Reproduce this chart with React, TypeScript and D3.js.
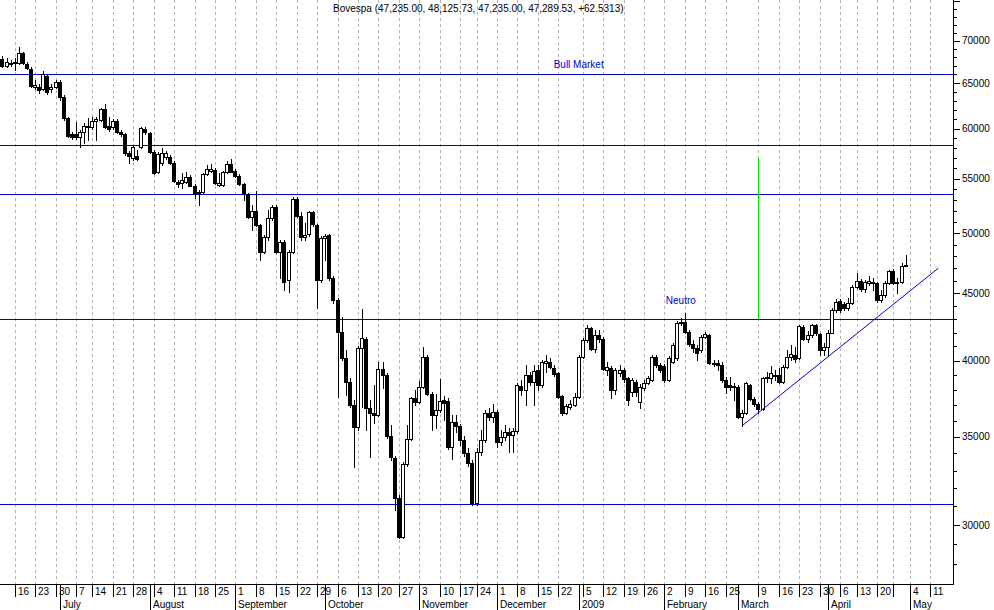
import { useEffect, useRef } from 'react'
import * as d3 from 'd3'

const W = 994
const H = 610
const FONT = '"Liberation Sans", Arial, sans-serif'

// sessions: every weekday from the first to the last date, minus exchange holidays
const FIRST_SESSION = '2008-06-10'
const LAST_SESSION = '2009-05-29'
const HOLIDAYS = [
  '2008-07-09', '2008-11-20', '2008-12-24', '2008-12-25', '2008-12-31',
  '2009-01-01', '2009-02-23', '2009-02-24', '2009-04-10', '2009-04-21', '2009-05-01',
]

// daily Bovespa candles, 2008-06-10 .. 2009-04-30
const OPEN = [
  68640, 67800, 66980, 67160, 67450, 67300, 68490, 67220, 66630, 64600, 64600, 64300, 65820, 64300, 64530,
  65170, 63410, 61120, 59440, 59440, 59120, 59640, 60170, 60170, 60870, 60940, 62090, 60300, 60170, 60870,
  59710, 59470, 57490, 56990, 57220, 58160, 59960, 59540, 57650, 55610, 56500, 57090, 57150, 56560, 54710,
  54550, 54650, 55130, 54330, 53610, 53700, 55450, 55770, 55840, 54390, 54390, 55610, 56430, 55740, 55290,
  54460, 53520, 51460, 51970, 50720, 48400, 49630, 51310, 52310, 48400, 49200, 46060, 48400, 53050, 51550,
  49630, 49920, 51850, 50720, 46060, 49550, 49830, 46200, 44480, 42080, 40160, 38550, 37010, 35630, 40870,
  41520, 36800, 36490, 36370, 39400, 39010, 35060, 33710, 31440, 29390, 33360, 34850, 37450, 37220, 38220,
  40280, 37730, 36370, 36690, 37320, 37270, 34370, 35950, 35680, 34810, 34050, 33420, 31200, 34110, 34810,
  36470, 36260, 36540, 34710, 34980, 35280, 35120, 35360, 38280, 37990, 39010, 38510, 39350, 38330, 39860,
  39930, 39460, 39120, 37600, 36470, 36860, 37010, 37510, 40280, 41470, 42330, 40820, 41830, 41520, 39350,
  39510, 37990, 39120, 39350, 38780, 37880, 38550, 37220, 38110, 38490, 38670, 40230, 39690, 39620, 38670,
  39930, 40160, 42700, 42770, 42080, 41160, 40870, 40750, 41710, 41830, 39860, 39830, 39690, 38670, 38330,
  38260, 38220, 36260, 36470, 38330, 37400, 37070, 36750, 38780, 38780, 39010, 39010, 38550, 39580, 40230,
  40400, 40160, 42400, 41520, 41830, 42570, 41910, 40750, 40990, 42000, 43700, 44420, 44170, 43830, 44220,
  45520, 46000, 45320, 45790, 45920, 45790, 44480, 44870, 45840, 46790, 45820, 45920, 47235,
]
const HIGH = [
  69360, 68160, 67920, 67690, 67920, 69280, 68640, 67450, 66860, 65360, 64900, 66400, 65940, 64900, 65360,
  65360, 63670, 61260, 59680, 60760, 59880, 60590, 61160, 61300, 61260, 62240, 62640, 61300, 61050, 61050,
  59880, 59570, 57720, 58330, 57830, 60200, 60200, 59680, 57830, 57620, 58000, 57720, 57320, 56720, 54870,
  55550, 55670, 55350, 54490, 53920, 55550, 56330, 56430, 56040, 55520, 55740, 56750, 56890, 55940, 55450,
  54580, 53640, 52520, 53820, 50800, 49830, 52060, 52520, 52520, 49400, 49400, 48540, 53290, 53290, 51880,
  50890, 51970, 51970, 50800, 49750, 49920, 49920, 46380, 44630, 43200, 40750, 38800, 37340, 41040, 43750,
  41690, 37340, 38330, 39930, 39930, 39140, 35740, 33850, 31620, 33500, 35740, 37550, 37990, 38620, 40990,
  40400, 37860, 37710, 38710, 37600, 37470, 36370, 36370, 35800, 35060, 34330, 33610, 34330, 35430, 36690,
  36820, 37070, 36690, 35430, 35740, 35550, 35550, 38460, 38670, 39690, 39210, 39690, 39690, 40040, 40400,
  40180, 39690, 39210, 37660, 37070, 37340, 37770, 40400, 41610, 42570, 42420, 42200, 42200, 41690, 39900,
  39630, 39490, 39690, 39490, 38870, 38800, 38670, 38400, 38670, 38940, 40400, 40400, 39830, 39760, 40330,
  41250, 42870, 43100, 43500, 42200, 41470, 41110, 41830, 42050, 41910, 40040, 40040, 39900, 38890, 38890,
  38460, 38330, 36690, 38530, 38400, 37530, 37210, 38870, 39210, 39630, 39350, 39490, 39690, 40750, 41110,
  40970, 42570, 42570, 42130, 42650, 42650, 41980, 41250, 42200, 43860, 44550, 44550, 44320, 44630, 45660,
  46630, 46140, 46060, 46380, 46220, 45900, 45260, 45980, 46870, 46960, 46220, 47450, 48125.73,
]
const LOW = [
  67690, 66860, 66860, 66980, 66510, 67220, 67220, 66630, 64560, 64340, 63890, 64225, 63750, 64000, 64450,
  63110, 60940, 59160, 58950, 58950, 58100, 58510, 58850, 59990, 58850, 60830, 60100, 59780, 59990, 59570,
  59260, 57320, 56500, 56820, 56820, 58030, 59470, 57520, 55450, 55540, 56330, 56920, 56430, 54680, 54230,
  54080, 54580, 54300, 53140, 52520, 53630, 55350, 55640, 54490, 54300, 54300, 55540, 55640, 55160, 54390,
  52980, 51310, 50270, 50630, 47700, 48290, 49400, 51160, 48290, 46200, 45260, 45100, 48290, 51430, 49400,
  49400, 49740, 50630, 43830, 45900, 47700, 46060, 44220, 37550, 40040, 37660, 36880, 33220, 35430, 36900,
  35430, 33810, 35860, 36310, 38130, 34930, 33610, 30800, 29350, 29350, 33260, 34810, 37010, 37140, 38130,
  37660, 35430, 35530, 36560, 36050, 34270, 33660, 35300, 34510, 33850, 33260, 31070, 31070, 33910, 34690,
  36050, 35930, 34390, 34510, 34810, 34090, 34090, 35240, 37660, 37010, 38330, 37010, 37990, 38200, 39230,
  39490, 38940, 37470, 36370, 36430, 36750, 36950, 37470, 40180, 41330, 40750, 40610, 41330, 39350, 39010,
  37450, 37730, 38940, 38530, 37010, 37600, 37600, 36800, 37990, 38400, 38600, 39560, 39210, 38530, 38600,
  39830, 40040, 42570, 41980, 41030, 40610, 40040, 40610, 41610, 39760, 39630, 39350, 38530, 37770, 37990,
  37340, 36180, 35690, 36430, 37340, 36950, 36490, 36690, 38530, 38440, 38670, 38490, 38460, 39490, 40040,
  39900, 40110, 41470, 41330, 41690, 41830, 40400, 40400, 40330, 41980, 43550, 43550, 43700, 43700, 44170,
  45420, 45180, 45100, 45660, 45260, 44320, 44320, 44710, 45740, 45740, 45030, 45820, 47235,
]
const CLOSE = [
  67920, 66980, 67420, 67330, 67300, 68490, 67300, 66750, 64680, 64790, 64225, 66010, 64030, 64600, 65170,
  63480, 61120, 59290, 59190, 59120, 59640, 60300, 60300, 60870, 61050, 62090, 60170, 59960, 60870, 59710,
  59470, 57490, 57250, 58160, 56950, 60060, 59680, 57650, 55570, 57420, 57550, 57550, 56560, 54800, 54490,
  54870, 55130, 54330, 53520, 53760, 55450, 55940, 55940, 54550, 54550, 55610, 56430, 55670, 55290, 54460,
  53610, 51460, 51970, 50720, 48400, 49630, 51310, 52370, 48400, 49250, 45920, 48370, 53050, 51550, 49630,
  49830, 51850, 50800, 46060, 49550, 49750, 46200, 44480, 42080, 40160, 38550, 37010, 35630, 40870, 41590,
  36800, 36470, 36370, 39400, 39010, 35060, 33810, 31440, 29390, 33360, 34850, 37450, 37220, 38220, 40280,
  37730, 36370, 36690, 37270, 37160, 34370, 35950, 35680, 34810, 34050, 33420, 31200, 34110, 34810, 36470,
  36260, 36580, 34710, 35010, 35280, 35120, 35360, 38330, 37990, 39010, 38510, 39300, 38330, 39930, 39980,
  39580, 39080, 37550, 36470, 36950, 37060, 37510, 40280, 41470, 42330, 40800, 41830, 41540, 39420, 39530,
  37990, 39350, 39350, 38710, 37340, 38670, 37880, 38220, 38490, 38780, 40280, 39690, 39350, 38670, 40160,
  41110, 42700, 42820, 42080, 41160, 40870, 40520, 41710, 41910, 39860, 39760, 39690, 38670, 38220, 38170,
  38220, 36260, 36470, 38440, 37400, 37070, 36750, 38780, 38890, 39120, 38940, 38550, 39580, 40230, 40470,
  40090, 42500, 41520, 41830, 42570, 41960, 40750, 40990, 42000, 43700, 44340, 43700, 43830, 44220, 45520,
  46000, 45320, 45920, 46000, 45790, 44480, 44870, 45840, 46790, 45840, 45920, 47240, 47289.53,
]

const WEEK_TICKS: [string, string][] = [
  ['2008-06-16', '16'], ['2008-06-23', '23'], ['2008-06-30', '30'], ['2008-07-07', '7'], ['2008-07-14', '14'],
  ['2008-07-21', '21'], ['2008-07-28', '28'], ['2008-08-04', '4'], ['2008-08-11', '11'], ['2008-08-18', '18'],
  ['2008-08-25', '25'], ['2008-09-01', '1'], ['2008-09-08', '8'], ['2008-09-15', '15'], ['2008-09-22', '22'],
  ['2008-09-29', '29'], ['2008-10-06', '6'], ['2008-10-13', '13'], ['2008-10-20', '20'], ['2008-10-27', '27'],
  ['2008-11-03', '3'], ['2008-11-10', '10'], ['2008-11-17', '17'], ['2008-11-24', '24'], ['2008-12-01', '1'],
  ['2008-12-08', '8'], ['2008-12-15', '15'], ['2008-12-22', '22'], ['2009-01-05', '5'], ['2009-01-12', '12'],
  ['2009-01-19', '19'], ['2009-01-26', '26'], ['2009-02-02', '2'], ['2009-02-09', '9'], ['2009-02-16', '16'],
  ['2009-02-25', '25'], ['2009-03-09', '9'], ['2009-03-16', '16'], ['2009-03-23', '23'], ['2009-03-30', '30'],
  ['2009-04-06', '6'], ['2009-04-13', '13'], ['2009-04-20', '20'], ['2009-04-27', ''], ['2009-05-04', '4'],
  ['2009-05-11', '11'],
]
const MONTH_TICKS: [string, string][] = [
  ['2008-07-01', 'July'], ['2008-08-01', 'August'], ['2008-09-01', 'September'], ['2008-10-01', 'October'],
  ['2008-11-03', 'November'], ['2008-12-01', 'December'], ['2009-01-02', '2009'], ['2009-02-02', 'February'],
  ['2009-03-02', 'March'], ['2009-04-01', 'April'], ['2009-05-04', 'May'],
]
const PRICE_LABELS = [30000, 35000, 40000, 45000, 50000, 55000, 60000, 65000, 70000]
const PRICE_MINOR = d3.range(27000, 75001, 1000)

const LEVELS = [66050, 58350, 53550, 43000, 31120]
const TREND = [{ date: '2009-03-03', value: 35690 }, { date: '2009-05-13', value: 47020 }]
const TARGET = { date: '2009-03-09', from: 43000, to: 57020 }
const NOTES = [
  { text: 'Bull Market', date: '2009-01-02', value: 67160 },
  { text: 'Neutro', date: '2009-02-06', value: 44400 },
]
const TITLE = 'Bovespa (47,235.00, 48,125.73, 47,235.00, 47,289.53, +62.5313)'

const BLUE = '#0000dd'

function sessions(): string[] {
  const out: string[] = []
  const d = new Date(FIRST_SESSION + 'T12:00:00Z')
  const end = new Date(LAST_SESSION + 'T12:00:00Z')
  while (d <= end) {
    const wd = d.getUTCDay()
    const iso = d.toISOString().slice(0, 10)
    if (wd !== 0 && wd !== 6 && !HOLIDAYS.includes(iso)) out.push(iso)
    d.setUTCDate(d.getUTCDate() + 1)
  }
  return out
}

export default function App() {
  const ref = useRef<SVGSVGElement>(null)

  useEffect(() => {
    if (!ref.current) return
    d3.select(ref.current).selectAll('*').remove()
    render(ref.current)
  }, [])

  return (
    <svg
      ref={ref}
      width={W}
      height={H}
      style={{ position: 'absolute', left: 0, top: 0, background: '#fff', display: 'block' }}
    />
  )
}

function render(el: SVGSVGElement) {
  const days = sessions()
  const pos = new Map(days.map((d, i) => [d, i]))
  const plotR = 953
  const plotB = 584

  const x = d3.scaleLinear().domain([0.4, 233.6]).range([0, plotR])
  const y = d3.scaleLog().domain([30000, 70000]).range([525, 40.8])
  const xd = (d: string) => x(pos.get(d)!)
  const px = (v: number) => Math.round(v) + 0.5

  const svg = d3.select(el).attr('viewBox', `0 0 ${W} ${H}`).style('font-family', FONT)

  svg.append('rect').attr('width', W).attr('height', H).attr('fill', '#fff')

  const plot = svg.append('g')
  plot.append('clipPath').attr('id', 'plot-clip')
    .append('rect').attr('width', plotR).attr('height', plotB)

  // Weekly grid
  plot.append('g')
    .selectAll('line')
    .data(WEEK_TICKS)
    .join('line')
    .attr('x1', (d) => px(xd(d[0])))
    .attr('x2', (d) => px(xd(d[0])))
    .attr('y1', 0)
    .attr('y2', plotB)
    .attr('stroke', '#b4b4b4')
    .attr('stroke-dasharray', '3,3')
    .attr('shape-rendering', 'crispEdges')

  // Title
  svg.append('text')
    .attr('x', 333)
    .attr('y', 12)
    .attr('font-size', 10)
    .attr('fill', '#000')
    .text(TITLE)

  // Levels
  plot.append('g')
    .selectAll('line')
    .data(LEVELS)
    .join('line')
    .attr('x1', 0)
    .attr('x2', plotR)
    .attr('y1', (d) => px(y(d)))
    .attr('y2', (d) => px(y(d)))
    .attr('stroke', BLUE)
    .attr('shape-rendering', 'crispEdges')

  // Target line
  plot.append('line')
    .attr('x1', px(xd(TARGET.date)))
    .attr('x2', px(xd(TARGET.date)))
    .attr('y1', y(TARGET.to))
    .attr('y2', y(TARGET.from))
    .attr('stroke', '#00dd00')
    .attr('stroke-width', 1.5)
    .attr('shape-rendering', 'crispEdges')

  // Candles
  const candles = plot.append('g').attr('clip-path', 'url(#plot-clip)')
  OPEN.forEach((o, i) => {
    const c = CLOSE[i]
    const cx = Math.round(x(i))
    const top = Math.round(y(Math.max(o, c)))
    const bot = Math.round(y(Math.min(o, c)))
    candles.append('line')
      .attr('x1', cx + 0.5)
      .attr('x2', cx + 0.5)
      .attr('y1', Math.round(y(HIGH[i])))
      .attr('y2', Math.round(y(LOW[i])) + 1)
      .attr('stroke', '#000')
      .attr('shape-rendering', 'crispEdges')
    if (bot - top < 1) {
      candles.append('line')
        .attr('x1', cx - 2)
        .attr('x2', cx + 3)
        .attr('y1', top + 0.5)
        .attr('y2', top + 0.5)
        .attr('stroke', '#000')
        .attr('shape-rendering', 'crispEdges')
    } else {
      candles.append('rect')
        .attr('x', cx - 1.5)
        .attr('y', top + 0.5)
        .attr('width', 3)
        .attr('height', bot - top)
        .attr('fill', c >= o ? '#fff' : '#000')
        .attr('stroke', '#000')
        .attr('shape-rendering', 'crispEdges')
    }
  })

  // Trend line
  plot.append('line')
    .attr('x1', xd(TREND[0].date))
    .attr('y1', y(TREND[0].value))
    .attr('x2', xd(TREND[1].date))
    .attr('y2', y(TREND[1].value))
    .attr('stroke', BLUE)
    .attr('stroke-width', 1)

  // Notes
  NOTES.forEach((n) => {
    plot.append('text')
      .attr('x', xd(n.date))
      .attr('y', y(n.value))
      .attr('dy', '0.35em')
      .attr('text-anchor', 'middle')
      .attr('font-size', 10)
      .attr('fill', BLUE)
      .text(n.text)
  })

  // Price axis
  const axis = svg.append('g')
  axis.append('line')
    .attr('x1', plotR + 0.5).attr('x2', plotR + 0.5)
    .attr('y1', 0).attr('y2', plotB + 1)
    .attr('stroke', '#000').attr('shape-rendering', 'crispEdges')
  axis.selectAll('line.minor')
    .data(PRICE_MINOR.filter((v) => y(v) >= 0 && y(v) <= plotB))
    .join('line')
    .attr('class', 'minor')
    .attr('x1', plotR)
    .attr('x2', (d) => plotR + (d % 5000 === 0 ? 7 : 4))
    .attr('y1', (d) => px(y(d)))
    .attr('y2', (d) => px(y(d)))
    .attr('stroke', '#000')
    .attr('shape-rendering', 'crispEdges')
  axis.selectAll('text')
    .data(PRICE_LABELS)
    .join('text')
    .attr('x', 962)
    .attr('y', (d) => y(d))
    .attr('dy', '0.35em')
    .attr('font-size', 10)
    .attr('fill', '#000')
    .text((d) => String(d))

  // Date axis
  const dates = svg.append('g')
  dates.append('line')
    .attr('x1', 0).attr('x2', plotR + 1)
    .attr('y1', plotB + 0.5).attr('y2', plotB + 0.5)
    .attr('stroke', '#000').attr('shape-rendering', 'crispEdges')
  dates.selectAll('line.week')
    .data(WEEK_TICKS)
    .join('line')
    .attr('class', 'week')
    .attr('x1', (d) => px(xd(d[0])))
    .attr('x2', (d) => px(xd(d[0])))
    .attr('y1', plotB)
    .attr('y2', 597)
    .attr('stroke', '#000')
    .attr('shape-rendering', 'crispEdges')
  dates.selectAll('text.week')
    .data(WEEK_TICKS)
    .join('text')
    .attr('class', 'week')
    .attr('x', (d) => Math.round(xd(d[0])) + 3)
    .attr('y', 595)
    .attr('font-size', 10)
    .text((d) => d[1])
  dates.selectAll('line.month')
    .data(MONTH_TICKS)
    .join('line')
    .attr('class', 'month')
    .attr('x1', (d) => px(xd(d[0])))
    .attr('x2', (d) => px(xd(d[0])))
    .attr('y1', plotB)
    .attr('y2', H)
    .attr('stroke', '#000')
    .attr('shape-rendering', 'crispEdges')
  dates.selectAll('text.month')
    .data(MONTH_TICKS)
    .join('text')
    .attr('class', 'month')
    .attr('x', (d) => Math.round(xd(d[0])) + 3)
    .attr('y', 608)
    .attr('font-size', 10)
    .text((d) => d[1])
}
